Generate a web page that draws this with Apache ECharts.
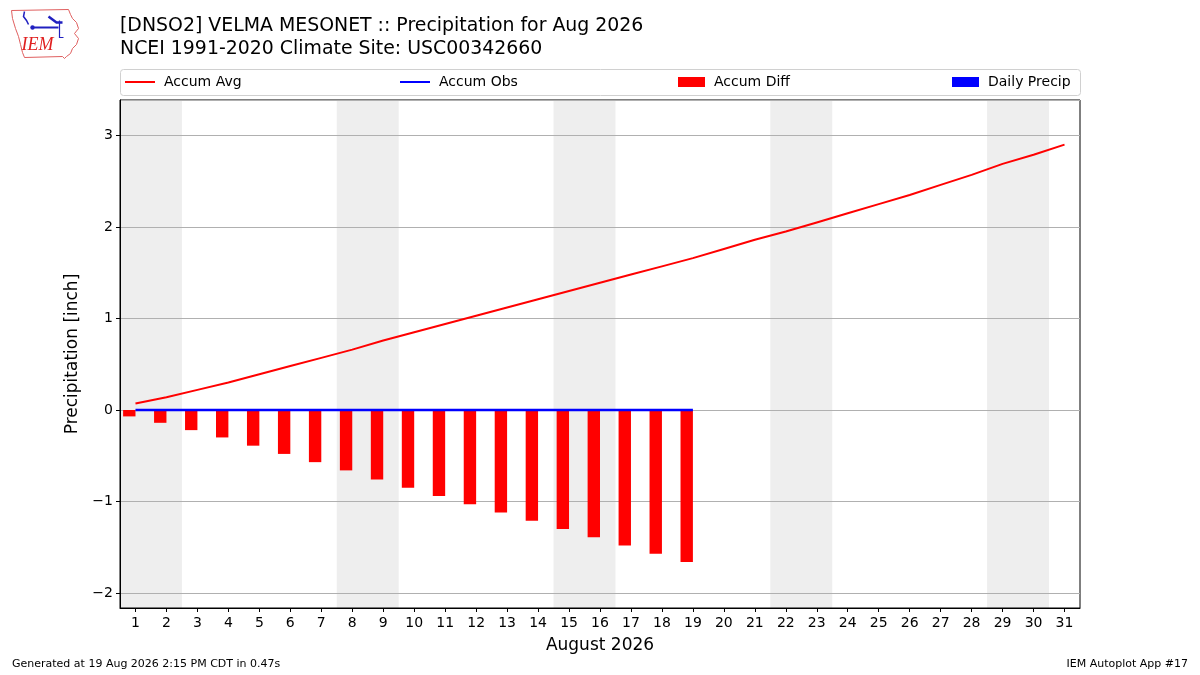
<!DOCTYPE html>
<html>
<head>
<meta charset="utf-8">
<script src="https://cdn.jsdelivr.net/npm/echarts@6/dist/echarts.min.js"></script>
<style>
html,body{margin:0;padding:0;background:#fff;}
#chart{width:1200px;height:675px;}
</style>
</head>
<body>
<div id="chart"></div>
<script>
// ---- data ----
const days = ['1','2','3','4','5','6','7','8','9','10','11','12','13','14','15','16','17','18','19','20','21','22','23','24','25','26','27','28','29','30','31'];
const accumAvg = [0.07,0.14,0.22,0.30,0.39,0.48,0.57,0.66,0.76,0.85,0.94,1.03,1.12,1.21,1.30,1.39,1.48,1.57,1.66,1.76,1.86,1.95,2.05,2.15,2.25,2.35,2.46,2.57,2.69,2.79,2.90];
const accumObs = [0,0,0,0,0,0,0,0,0,0,0,0,0,0,0,0,0,0,0];
const accumDiff = [-0.07,-0.14,-0.22,-0.30,-0.39,-0.48,-0.57,-0.66,-0.76,-0.85,-0.94,-1.03,-1.12,-1.21,-1.30,-1.39,-1.48,-1.57,-1.66];
const dailyPrecip = [0,0,0,0,0,0,0,0,0,0,0,0,0,0,0,0,0,0,0];
const weekendStart = [1,8,15,22,29];
const weekendEnd = [2,9,16,23,30];

const FONT = 'DejaVu Sans';
const chart = echarts.init(document.getElementById('chart'));

function barItem(side, color) {
  return function (params, api) {
    const idx = api.value(0);
    const val = api.value(1);
    const p0 = api.coord([idx, 0]);
    const p1 = api.coord([idx, val]);
    const w = api.size([1, 0])[0] * 0.4;
    const x = side < 0 ? p0[0] - w : p0[0];
    return {
      type: 'rect',
      shape: { x: x, y: Math.min(p0[1], p1[1]), width: w, height: Math.abs(p1[1] - p0[1]) },
      style: { fill: color }
    };
  };
}

const legendText = { fontFamily: FONT, fontSize: 14, color: '#000', padding: [0, 0, 0, 4] };

const option = {
  animation: false,
  backgroundColor: '#ffffff',
  textStyle: { fontFamily: FONT },
  title: {
    text: '[DNSO2] VELMA MESONET :: Precipitation for Aug 2026\nNCEI 1991-2020 Climate Site: USC00342660',
    left: 115, top: 10,
    textStyle: { fontFamily: FONT, fontSize: 18.9, fontWeight: 'normal', color: '#000', lineHeight: 23 }
  },
  legend: [
    { data: ['Accum Avg'], left: 120, top: 70, icon: 'rect', itemWidth: 30, itemHeight: 2, textStyle: legendText },
    { data: ['Accum Obs'], left: 395, top: 70, icon: 'rect', itemWidth: 30, itemHeight: 2, textStyle: legendText },
    { data: ['Accum Diff'], left: 673, top: 70, icon: 'rect', itemWidth: 27, itemHeight: 10, textStyle: legendText },
    { data: ['Daily Precip'], left: 947, top: 70, icon: 'rect', itemWidth: 27, itemHeight: 10, textStyle: legendText }
  ],
  grid: {
    left: 120, right: 120, top: 100, bottom: 67,
    show: true, borderColor: '#000', borderWidth: 1, backgroundColor: 'transparent'
  },
  xAxis: {
    type: 'category',
    data: days,
    boundaryGap: true,
    name: 'August 2026',
    nameLocation: 'middle',
    nameGap: 29,
    nameTextStyle: { fontFamily: FONT, fontSize: 17, color: '#000' },
    axisLine: { show: true, onZero: false, lineStyle: { color: '#000', width: 1 } },
    axisTick: { show: true, alignWithLabel: true, length: 4, lineStyle: { color: '#000' } },
    axisLabel: { fontFamily: FONT, fontSize: 14, color: '#000', margin: 8, interval: 0 },
    splitLine: { show: false }
  },
  yAxis: {
    type: 'value',
    min: -2.164, max: 3.388,
    minInterval: 1, maxInterval: 1,
    name: 'Precipitation [inch]',
    nameLocation: 'middle',
    nameGap: 37,
    nameTextStyle: { fontFamily: FONT, fontSize: 17, color: '#000' },
    axisLine: { show: true, lineStyle: { color: '#000' } },
    axisTick: { show: true, length: 4, lineStyle: { color: '#000' } },
    axisLabel: {
      fontFamily: FONT, fontSize: 14, color: '#000', margin: 7,
      showMinLabel: false, showMaxLabel: false,
      formatter: function (v) {
        if (Math.abs(v - Math.round(v)) > 1e-6) return '';
        return String(Math.round(v)).replace('-', '\u2212');
      }
    },
    splitLine: { show: true, lineStyle: { color: '#b0b0b0', width: 1 } }
  },
  series: [
    {
      name: 'weekend',
      type: 'custom',
      silent: true,
      z: -1,
      data: weekendStart.map((d, i) => [d - 1, weekendEnd[i] - 1]),
      encode: { x: 0 },
      renderItem: function (params, api) {
        const a = api.coord([api.value(0), 0]);
        const b = api.coord([api.value(1), 0]);
        const band = api.size([1, 0])[0];
        const cs = params.coordSys;
        return {
          type: 'rect',
          shape: { x: a[0] - band / 2, y: cs.y, width: b[0] - a[0] + band, height: cs.height },
          style: { fill: '#eeeeee' }
        };
      }
    },
    {
      name: 'Accum Diff',
      type: 'custom',
      z: 2,
      itemStyle: { color: '#ff0000' },
      data: accumDiff.map((v, i) => [i, v]),
      encode: { x: 0, y: 1 },
      renderItem: barItem(-1, '#ff0000')
    },
    {
      name: 'Daily Precip',
      type: 'custom',
      z: 2,
      itemStyle: { color: '#0000ff' },
      data: dailyPrecip.map((v, i) => [i, v]),
      encode: { x: 0, y: 1 },
      renderItem: barItem(1, '#0000ff')
    },
    {
      name: 'Accum Avg',
      type: 'line',
      z: 3,
      data: accumAvg,
      showSymbol: false,
      symbol: 'none',
      itemStyle: { color: '#ff0000' },
      lineStyle: { color: '#ff0000', width: 2 }
    },
    {
      name: 'Accum Obs',
      type: 'line',
      z: 4,
      data: accumObs,
      showSymbol: false,
      symbol: 'none',
      itemStyle: { color: '#0000ff' },
      lineStyle: { color: '#0000ff', width: 2.5 }
    }
  ],
  graphic: [
    {
      type: 'rect', left: 120, top: 69, silent: true, z: -10,
      shape: { width: 960, height: 26, r: 3 },
      style: { fill: '#ffffff', stroke: '#d0d0d0', lineWidth: 1 }
    },
    {
      type: 'text', left: 12, top: 659,
      style: { text: 'Generated at 19 Aug 2026 2:15 PM CDT in 0.47s', font: '11px "DejaVu Sans"', fill: '#000' }
    },
    {
      type: 'text', right: 12, top: 659,
      style: { text: 'IEM Autoplot App #17', font: '11px "DejaVu Sans"', fill: '#000' }
    },
    {
      type: 'group', left: 9, top: 7,
      children: [
        {
          type: 'polyline',
          shape: { points: [[1,2],[58,1],[60,6],[62,10],[66,14],[68,20],[64,25],[68,30],[66,36],[62,40],[60,45],[56,48],[54,50],[52,48],[14,49],[12,44],[10,36],[8,28],[5,20],[2,10],[1,2]] },
          style: { stroke: '#e06060', lineWidth: 1, fill: 'none' }
        },
        {
          type: 'polyline',
          shape: { points: [[14,3],[13,8],[16,12],[18,16]] },
          style: { stroke: '#2020c0', lineWidth: 1.5, fill: 'none' }
        },
        {
          type: 'polyline',
          shape: { points: [[22,19],[48,19]] },
          style: { stroke: '#2020c0', lineWidth: 2, fill: 'none' }
        },
        {
          type: 'polyline',
          shape: { points: [[38,8],[46,14],[52,14]] },
          style: { stroke: '#2020c0', lineWidth: 2.5, fill: 'none' }
        },
        {
          type: 'polyline',
          shape: { points: [[49,12],[49,29],[53,29]] },
          style: { stroke: '#2020c0', lineWidth: 1.2, fill: 'none' }
        },
        {
          type: 'circle', shape: { cx: 22, cy: 19, r: 2.2 }, style: { fill: '#2020c0' }
        },
        {
          type: 'text', left: 11, top: 28,
          style: { text: 'IEM', font: 'italic 18px "Liberation Serif"', fill: '#e02020' }
        }
      ]
    }
  ]
};
chart.setOption(option);
</script>
</body>
</html>
